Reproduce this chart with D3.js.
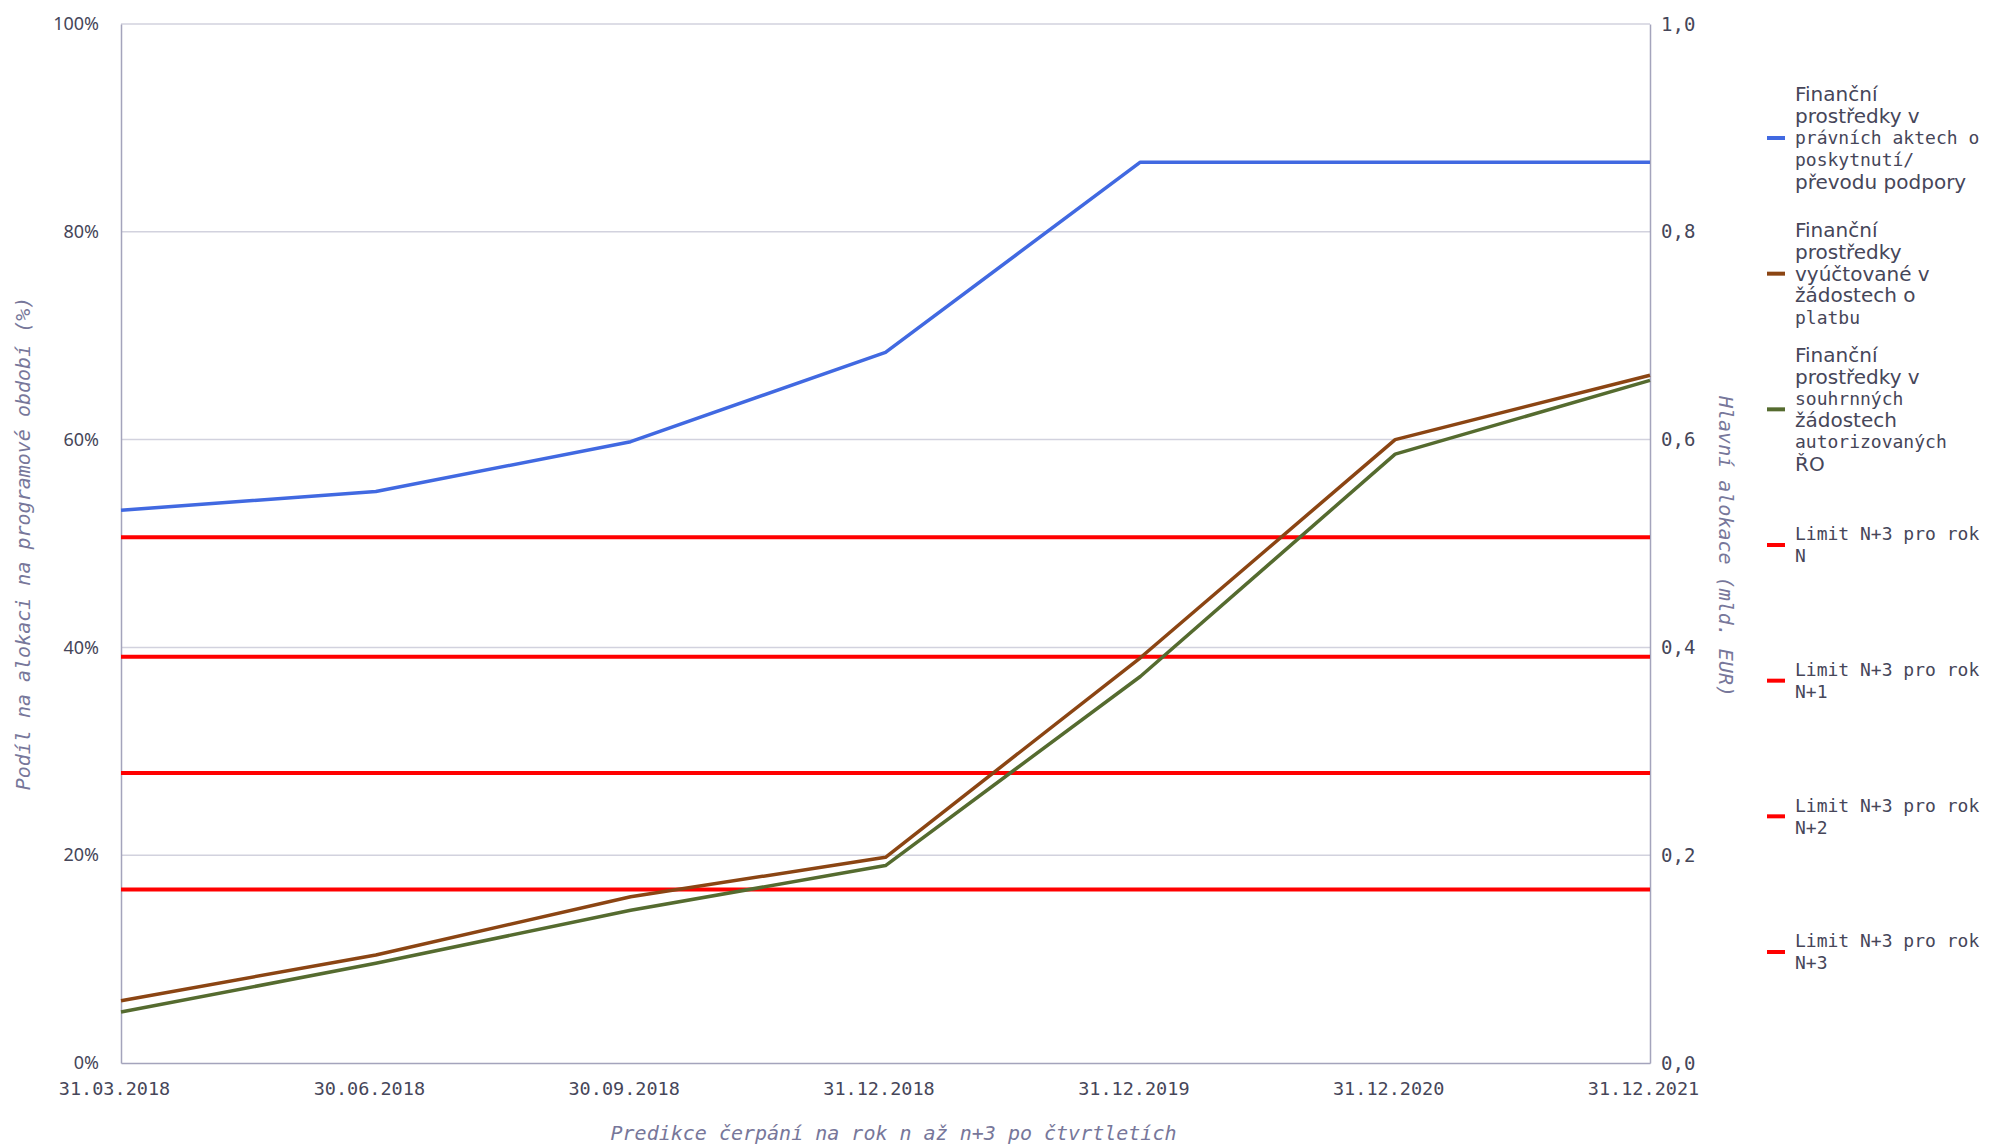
<!DOCTYPE html>
<html>
<head>
<meta charset="utf-8">
<script src="https://cdn.jsdelivr.net/npm/d3@7"></script>
<style>
  body { margin: 0; background: #fff; }
  svg { display: block; }
</style>
</head>
<body>
<div id="chart"></div>
<script>
const width = 1990;
const height = 1146;

// categories (x axis)
const dates = ["31.03.2018", "30.06.2018", "30.09.2018", "31.12.2018", "31.12.2019", "31.12.2020", "31.12.2021"];

// series values in % of allocation
const pravniAkty = [53.2, 55.0, 59.8, 68.4, 86.7, 86.7, 86.7];
const vyuctovane = [6.0, 10.4, 16.0, 19.8, 39.0, 60.0, 66.2];
const souhrnne = [4.9, 9.6, 14.7, 19.0, 37.2, 58.6, 65.7];

// N+3 limits (constant over the whole period)
const limitNames = ["N", "N+1", "N+2", "N+3"];
const limitValues = [50.6, 39.1, 27.9, 16.7];

const leftTicks = [0, 20, 40, 60, 80, 100];
const rightTicks = [0, 0.2, 0.4, 0.6, 0.8, 1.0];

const seriesLabels = [
    ["Finanční", "prostředky v", "právních aktech o", "poskytnutí/", "převodu podpory"],
    ["Finanční", "prostředky", "vyúčtované v", "žádostech o", "platbu"],
    ["Finanční", "prostředky v", "souhrnných", "žádostech", "autorizovaných", "ŘO"]
];
const seriesColors = ["#4169e1", "#8b4513", "#556b2f"];

const margin = {top: 24, right: 340, bottom: 83, left: 121};

var svg = d3.select("#chart")
    .append("svg")
    .attr("width", width)
    .attr("height", height)

const x = d3.scalePoint()
    .domain(dates)
    .range([margin.left, width - margin.right]);

const y = d3.scaleLinear()
    .domain([0, 100])
    .range([height - margin.bottom, margin.top]);

const y2 = d3.scaleLinear()
    .domain([0, 1])
    .range([height - margin.bottom, margin.top]);

const mono = "'DejaVu Sans Mono', monospace";
const sans = "'DejaVu Sans', sans-serif";
const textColor = "#464659";
const titleColor = "#77779a";

// gridlines
svg.append("g")
    .selectAll("line")
    .data(leftTicks.filter(d => d > 0))
    .join("line")
    .attr("x1", margin.left)
    .attr("x2", width - margin.right)
    .attr("y1", d => y(d))
    .attr("y2", d => y(d))
    .attr("stroke", "#d2d2de")
    .attr("stroke-width", 1.5);

// left axis
const leftAxis = svg.append("g")
    .attr("transform", `translate(${margin.left},0)`)
    .call(d3.axisLeft(y).tickValues(leftTicks).tickSize(0).tickPadding(22).tickFormat(d => d + "%"));
leftAxis.select(".domain").attr("stroke", "#a4a4bc").attr("stroke-width", 1.5);
leftAxis.selectAll("text")
    .style("font-family", "'Noto Sans', sans-serif")
    .style("font-size", "18px")
    .attr("fill", textColor);

// right axis
const rightAxis = svg.append("g")
    .attr("transform", `translate(${width - margin.right},0)`)
    .call(d3.axisRight(y2).tickValues(rightTicks).tickSize(0).tickPadding(11).tickFormat(d => d3.format(".1f")(d).replace(".", ",")));
rightAxis.select(".domain").attr("stroke", "#a4a4bc").attr("stroke-width", 1.5);
rightAxis.selectAll("text")
    .style("font-family", mono)
    .style("font-size", "19px")
    .attr("fill", textColor);

// bottom axis
const bottomAxis = svg.append("g")
    .attr("transform", `translate(0,${height - margin.bottom})`)
    .call(d3.axisBottom(x).tickSize(0).tickPadding(19));
bottomAxis.select(".domain").attr("stroke", "#a4a4bc").attr("stroke-width", 1.5);
bottomAxis.selectAll("text")
    .attr("dx", -7)
    .style("font-family", mono)
    .style("font-size", "18.5px")
    .attr("fill", textColor);

// axis titles
svg.append("text")
    .attr("transform", `translate(30,${(y(0) + y(100)) / 2}) rotate(-90)`)
    .attr("text-anchor", "middle")
    .style("font-family", mono)
    .style("font-style", "italic")
    .style("font-size", "20px")
    .attr("fill", titleColor)
    .text("Podíl na alokaci na programové období (%)");

svg.append("text")
    .attr("transform", `translate(1719,${(y(0) + y(100)) / 2 + 3}) rotate(90)`)
    .attr("text-anchor", "middle")
    .style("font-family", mono)
    .style("font-style", "italic")
    .style("font-size", "20px")
    .attr("fill", titleColor)
    .text("Hlavní alokace (mld. EUR)");

svg.append("text")
    .attr("x", (x(dates[0]) + x(dates[dates.length - 1])) / 2 + 8)
    .attr("y", 1140)
    .attr("text-anchor", "middle")
    .style("font-family", mono)
    .style("font-style", "italic")
    .style("font-size", "20px")
    .attr("fill", titleColor)
    .text("Predikce čerpání na rok n až n+3 po čtvrtletích");

const line = d3.line()
    .x((d, i) => x(dates[i]))
    .y(d => y(d));

// limit lines
svg.append("g")
    .selectAll("path")
    .data(limitValues)
    .join("path")
    .attr("d", v => line(dates.map(() => v)))
    .attr("fill", "none")
    .attr("stroke", "#ff0000")
    .attr("stroke-width", 4);

// data series
svg.append("g")
    .selectAll("path")
    .data([pravniAkty, vyuctovane, souhrnne])
    .join("path")
    .attr("d", line)
    .attr("fill", "none")
    .attr("stroke", (d, i) => seriesColors[i])
    .attr("stroke-width", 3.5)
    .attr("stroke-linejoin", "round");

// legend
const legendItems = seriesLabels.map((lines, i) => ({lines: lines, color: seriesColors[i]}))
    .concat(limitNames.map(n => ({lines: ["Limit N+3 pro rok", n], color: "#ff0000"})));

const legendY = d3.scalePoint()
    .domain(d3.range(legendItems.length))
    .range([138, 952]);

const lineH = 21.8;

const legend = svg.append("g")
    .selectAll("g")
    .data(legendItems)
    .join("g")
    .attr("transform", (d, i) => `translate(1767,${legendY(i)})`);

legend.append("line")
    .attr("x1", 0)
    .attr("x2", 18)
    .attr("stroke", d => d.color)
    .attr("stroke-width", 4);

legend.each(function(d) {
    const g = d3.select(this);
    const n = d.lines.length;
    d.lines.forEach((t, k) => {
        const special = /[čřžúŘ]/.test(t) || /^Finan/.test(t);
        g.append("text")
            .attr("x", 28)
            .attr("y", (k - (n - 1) / 2) * lineH)
            .attr("dy", "0.35em")
            .style("font-family", special ? sans : mono)
            .style("font-size", special ? "20px" : "18px")
            .attr("fill", textColor)
            .text(t);
    });
});
</script>
</body>
</html>
